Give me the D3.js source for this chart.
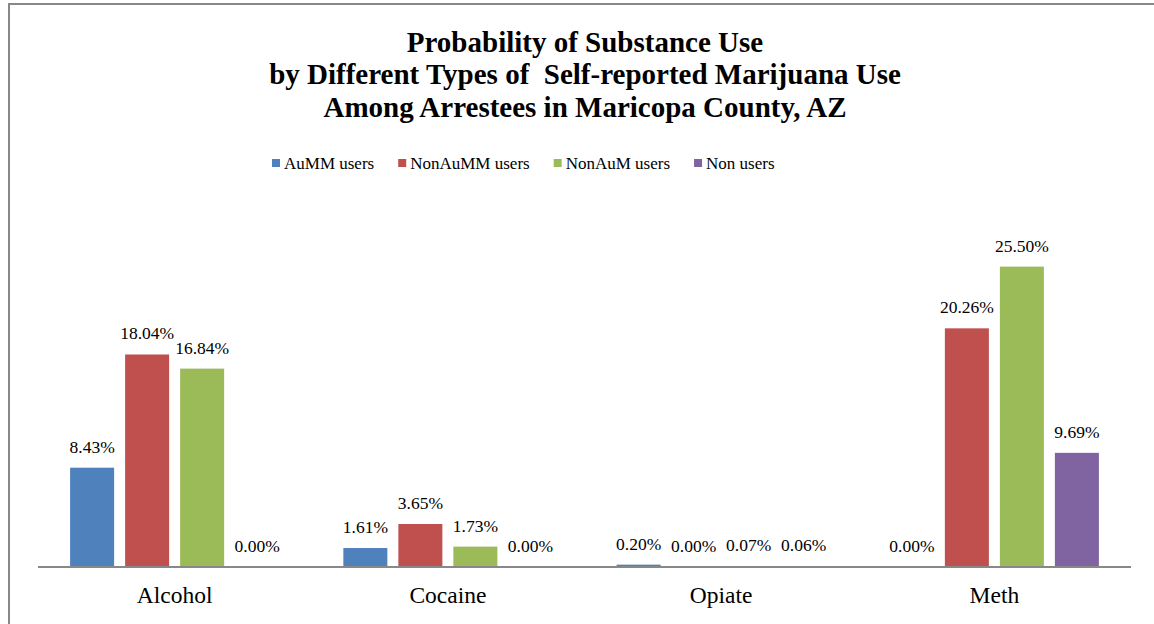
<!DOCTYPE html>
<html>
<head>
<meta charset="utf-8">
<script src="https://cdn.jsdelivr.net/npm/d3@7"></script>
<style>
  body { margin: 0; background: #fff; }
</style>
</head>
<body>
<svg id="chart" width="1154" height="624"></svg>
<script>
const categories = ["Alcohol", "Cocaine", "Opiate", "Meth"];
const seriesNames = ["AuMM users", "NonAuMM users", "NonAuM users", "Non users"];
const colors = ["#4F81BD", "#C0504D", "#9BBB59", "#8064A2"];

// percent values per series, in category order
const aummUsers = [8.43, 1.61, 0.20, 0.00];
const nonAummUsers = [18.04, 3.65, 0.00, 20.26];
const nonAumUsers = [16.84, 1.73, 0.07, 25.50];
const nonUsers = [0.00, 0.00, 0.06, 9.69];

const titleLines = [
  "Probability of Substance Use",
  "by Different Types of  Self-reported Marijuana Use",
  "Among Arrestees in Maricopa County, AZ"
];

const seriesValues = [aummUsers, nonAummUsers, nonAumUsers, nonUsers];
const FONT = "'Liberation Serif', 'Times New Roman', serif";

const svg = d3.select("#chart");

// outer frame (runs off the right/bottom of the picture)
svg.append("path")
  .attr("d", "M9,624V4H1154")
  .attr("fill", "none")
  .attr("stroke", "#888")
  .attr("stroke-width", 2);

const plot = { left: 38, right: 1131, top: 213.6, bottom: 567 };

const x0 = d3.scaleBand()
  .domain(categories)
  .range([plot.left, plot.right])
  .paddingInner(0.235)
  .paddingOuter(0.1175);

const x1 = d3.scaleBand()
  .domain(seriesNames)
  .range([0, x0.bandwidth()])
  .paddingInner(0.2);

const y = d3.scaleLinear()
  .domain([0, 30])
  .range([plot.bottom, plot.top]);

const color = d3.scaleOrdinal().domain(seriesNames).range(colors);

// title
titleLines.forEach((line, i) => {
  svg.append("text")
    .attr("x", 585)
    .attr("y", 51.7 + i * 32.6)
    .attr("text-anchor", "middle")
    .attr("font-family", FONT)
    .attr("font-weight", "bold")
    .attr("font-size", 29)
    .attr("xml:space", "preserve")
    .text(line);
});

// legend
const legend = svg.append("g");
let lx = 272;
seriesNames.forEach((name) => {
  legend.append("rect")
    .attr("x", lx).attr("y", 159)
    .attr("width", 8).attr("height", 8)
    .attr("fill", color(name));
  const t = legend.append("text")
    .attr("x", lx + 12).attr("y", 169)
    .attr("font-family", FONT)
    .attr("font-size", 17)
    .attr("fill", "#000")
    .text(name);
  lx += 12 + t.node().getComputedTextLength() + 24;
});

// bars
const rows = categories.map((c, ci) => ({
  cat: c,
  vals: seriesNames.map((s, si) => ({ series: s, value: seriesValues[si][ci] }))
}));

const groups = svg.append("g")
  .selectAll("g")
  .data(rows)
  .join("g")
  .attr("transform", d => `translate(${x0(d.cat)},0)`);

groups.selectAll("rect")
  .data(d => d.vals)
  .join("rect")
  .attr("x", d => x1(d.series))
  .attr("y", d => y(d.value))
  .attr("width", x1.bandwidth())
  .attr("height", d => y(0) - y(d.value))
  .attr("fill", d => color(d.series));

groups.selectAll("text")
  .data(d => d.vals)
  .join("text")
  .attr("x", d => x1(d.series) + x1.bandwidth() / 2)
  .attr("y", d => y(d.value) - 15)
  .attr("text-anchor", "middle")
  .attr("font-family", FONT)
  .attr("font-size", 17.5)
  .attr("fill", "#000")
  .text(d => d.value.toFixed(2) + "%");

// x axis
const xAxis = svg.append("g")
  .attr("transform", `translate(0,${plot.bottom})`)
  .call(d3.axisBottom(x0).tickSize(0).tickPadding(19));
xAxis.select(".domain")
  .attr("d", `M${plot.left},0H${plot.right}`)
  .attr("stroke", "#888")
  .attr("stroke-width", 2);
xAxis.attr("font-family", FONT).attr("font-size", 23.5);
xAxis.selectAll("text").attr("fill", "#000");
</script>
</body>
</html>
